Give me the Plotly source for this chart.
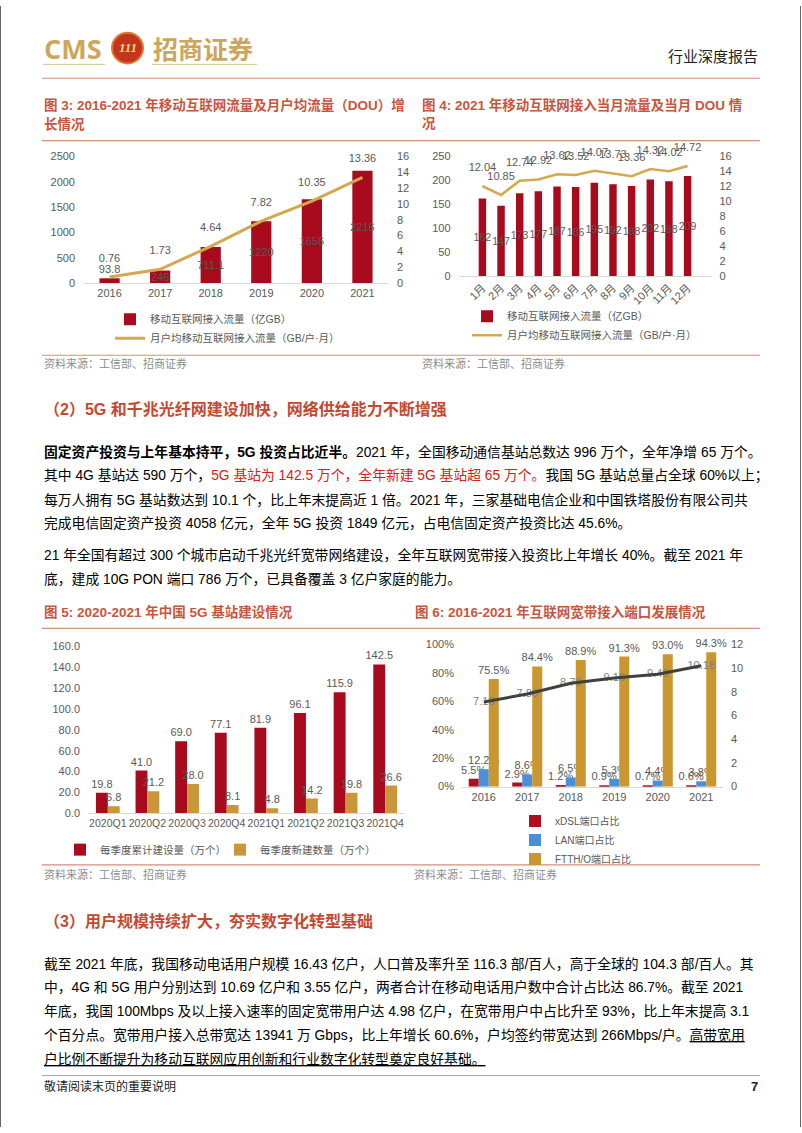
import plotly.graph_objects as go

W, H = 802, 1133


def fx(x):
    return x / W


def fy(y):
    return 1 - y / H


# ---------------- data ----------------
years1 = ['2016', '2017', '2018', '2019', '2020', '2021']
traffic1 = [93.8, 246, 711.1, 1220, 1656, 2216]
dou1 = [0.76, 1.73, 4.64, 7.82, 10.35, 13.36]

months2 = ['1月', '2月', '3月', '4月', '5月', '6月', '7月', '8月', '9月', '10月', '11月', '12月']
traffic2 = [162, 147, 173, 177, 187, 186, 195, 192, 188, 202, 198, 209]
dou2 = [12.04, 10.85, 12.74, 12.92, 13.62, 13.52, 14.07, 13.73, 13.36, 14.32, 14.02, 14.72]

quarters3 = ['2020Q1', '2020Q2', '2020Q3', '2020Q4', '2021Q1', '2021Q2', '2021Q3', '2021Q4']
cum3 = [19.8, 41.0, 69.0, 77.1, 81.9, 96.1, 115.9, 142.5]
new3 = [6.8, 21.2, 28, 8.1, 4.8, 14.2, 19.8, 26.6]

years4 = ['2016', '2017', '2018', '2019', '2020', '2021']
xdsl4 = [5.5, 2.9, 1.2, 0.9, 0.7, 0.6]
lan4 = [12.2, 8.6, 6.5, 5.3, 4.4, 3.8]
ftth4 = [75.5, 84.4, 88.9, 91.3, 93.0, 94.3]
ports4 = [7.13, 7.80, 8.70, 9.16, 9.46, 10.18]

# ---------------- styles ----------------
FONT = 'Liberation Sans, Arial, Noto Sans CJK SC, sans-serif'
RED = '#A80A1E'
GOLD = '#D6A84E'
GOLD_BAR = '#C9973A'
BLUE = '#4A8FD8'
DARK = '#404040'
GREY = '#595959'
TITLE_C = '#C8553D'
HEAD_C = '#C6492F'
LINE_C = '#D98C7A'
TICKF = dict(size=11, color=GREY, family=FONT)
LABF = dict(size=11, color=GREY, family=FONT)

fig = go.Figure()

# ---------- chart 1 ----------
fig.add_trace(go.Bar(
    x=years1, y=traffic1, xaxis='x', yaxis='y', width=0.4,
    marker=dict(color=RED, line=dict(width=0)),
    name='移动互联网接入流量（亿GB）', legend='legend',
    texttemplate='%{y}', textangle=0, constraintext='none',
    textposition=['outside'] + ['inside'] * 5, insidetextanchor='middle',
    textfont=LABF, cliponaxis=False))
fig.add_trace(go.Scatter(
    x=years1, y=dou1, xaxis='x', yaxis='y2', mode='lines',
    line=dict(color=GOLD, width=3),
    name='月户均移动互联网接入流量（GB/户·月）', legend='legend', cliponaxis=False))
fig.add_trace(go.Scatter(
    x=years1, y=dou1, xaxis='x', yaxis='y2', mode='markers+text',
    marker=dict(size=18, opacity=0, color=GOLD),
    texttemplate='%{y:.2f}', textposition='top center', textfont=LABF,
    showlegend=False, cliponaxis=False))

# ---------- chart 2 ----------
fig.add_trace(go.Bar(
    x=months2, y=traffic2, xaxis='x2', yaxis='y3', width=0.4,
    marker=dict(color=RED, line=dict(width=0)),
    name='移动互联网接入流量（亿GB）', legend='legend2',
    texttemplate='%{y}', textangle=0, constraintext='none',
    textposition='inside', insidetextanchor='middle',
    textfont=dict(size=10.5, color=GREY, family=FONT), cliponaxis=False))
fig.add_trace(go.Scatter(
    x=months2, y=dou2, xaxis='x2', yaxis='y4', mode='lines',
    line=dict(color=GOLD, width=2.5),
    name='月户均移动互联网接入流量（GB/户·月）', legend='legend2', cliponaxis=False))
fig.add_trace(go.Scatter(
    x=months2, y=dou2, xaxis='x2', yaxis='y4', mode='markers+text',
    marker=dict(size=18, opacity=0, color=GOLD),
    texttemplate='%{y:.2f}', textposition='top center', textfont=LABF,
    showlegend=False, cliponaxis=False))

# ---------- chart 3 ----------
fig.add_trace(go.Bar(
    x=quarters3, y=cum3, xaxis='x3', yaxis='y5', width=0.3, offset=-0.3,
    marker=dict(color=RED, line=dict(width=0)),
    name='每季度累计建设量（万个）', legend='legend3',
    texttemplate='%{y:.1f}', textposition='outside', textangle=0, constraintext='none',
    textfont=LABF, cliponaxis=False))
fig.add_trace(go.Bar(
    x=quarters3, y=new3, xaxis='x3', yaxis='y5', width=0.3, offset=0.0,
    marker=dict(color=GOLD_BAR, line=dict(width=0)),
    name='每季度新建数量（万个）', legend='legend3',
    texttemplate='%{y}', textposition='outside', textangle=0, constraintext='none',
    textfont=LABF, cliponaxis=False))

# ---------- chart 4 ----------
bw4 = 0.23
fig.add_trace(go.Bar(
    x=years4, y=xdsl4, xaxis='x4', yaxis='y6', width=bw4, offset=-1.5 * bw4,
    marker=dict(color='#B0101E', line=dict(width=0)),
    name='xDSL端口占比', legend='legend4',
    texttemplate='%{y:.1f}%', textposition='outside', textangle=0, constraintext='none',
    textfont=LABF, cliponaxis=False))
fig.add_trace(go.Bar(
    x=years4, y=lan4, xaxis='x4', yaxis='y6', width=bw4, offset=-0.5 * bw4,
    marker=dict(color=BLUE, line=dict(width=0)),
    name='LAN端口占比', legend='legend4',
    texttemplate='%{y:.1f}%', textposition='outside', textangle=0, constraintext='none',
    textfont=LABF, cliponaxis=False))
fig.add_trace(go.Bar(
    x=years4, y=ftth4, xaxis='x4', yaxis='y6', width=bw4, offset=0.5 * bw4,
    marker=dict(color='#C9962F', line=dict(width=0)),
    name='FTTH/O端口占比', legend='legend4',
    texttemplate='%{y:.1f}%', textposition='outside', textangle=0, constraintext='none',
    textfont=LABF, cliponaxis=False))
fig.add_trace(go.Scatter(
    x=years4, y=ports4, xaxis='x4', yaxis='y7', mode='text',
    texttemplate='%{y:.2f}', textposition='middle center',
    textfont=dict(size=11, color='#7F7F7F', family=FONT),
    showlegend=False, cliponaxis=False))
fig.add_trace(go.Scatter(
    x=years4, y=ports4, xaxis='x4', yaxis='y7', mode='lines',
    line=dict(color=DARK, width=3), showlegend=False, cliponaxis=False))

# ---------------- axes ----------------
def xax(x0, x1, anchor, **kw):
    d = dict(domain=[fx(x0), fx(x1)], anchor=anchor, type='category',
             showline=True, linecolor='#D9D9D9', linewidth=1, ticks='',
             showgrid=False, zeroline=False, tickfont=TICKF, fixedrange=True)
    d.update(kw)
    return d


def yax(y0, y1, anchor, rng, dtick, **kw):
    d = dict(domain=[fy(y1), fy(y0)], anchor=anchor, range=rng, dtick=dtick,
             showline=False, ticks='', showgrid=False, zeroline=False,
             tickfont=TICKF, fixedrange=True, ticklabelstandoff=7)
    d.update(kw)
    return d


layout = dict(
    width=W, height=H, margin=dict(l=0, r=0, t=0, b=0),
    paper_bgcolor='white', plot_bgcolor='rgba(0,0,0,0)',
    font=dict(family=FONT, color=GREY),
    barmode='group', showlegend=True,
    xaxis=xax(83, 389, 'y', tickangle=0),
    yaxis=yax(152, 280, 'x', [0, 2500], 500),
    yaxis2=yax(152, 280, 'x', [0, 16], 2, overlaying='y', side='right'),
    xaxis2=xax(458.5, 711.5, 'y3', tickangle=-45),
    yaxis3=yax(152, 273, 'x2', [0, 250], 50),
    yaxis4=yax(152, 273, 'x2', [0, 16], 2, overlaying='y3', side='right'),
    xaxis3=xax(88, 405, 'y5', tickangle=0, tickfont=dict(size=10.5, color=GREY, family=FONT)),
    yaxis5=yax(647, 816, 'x3', [0, 160], 20, tickformat='.1f'),
    xaxis4=xax(462, 723, 'y6', tickangle=0),
    yaxis6=yax(645, 789, 'x4', [0, 100], 20, ticksuffix='%'),
    yaxis7=yax(645, 789, 'x4', [0, 12], 2, overlaying='y6', side='right'),
)

LEGF = dict(size=10.5, color=GREY, family=FONT)
layout['legend'] = dict(x=fx(110), y=fy(302), xanchor='left', yanchor='top',
                        orientation='v', font=LEGF, bgcolor='rgba(0,0,0,0)',
                        itemwidth=30, tracegroupgap=0)
layout['legend2'] = dict(x=fx(467), y=fy(299), xanchor='left', yanchor='top',
                         orientation='v', font=LEGF, bgcolor='rgba(0,0,0,0)',
                         itemwidth=30, tracegroupgap=0)
layout['legend3'] = dict(x=fx(60), y=fy(838), xanchor='left', yanchor='top',
                         orientation='h', font=LEGF, bgcolor='rgba(0,0,0,0)',
                         itemwidth=30, entrywidth=115, entrywidthmode='pixels')
layout['legend4'] = dict(x=fx(515), y=fy(843), xanchor='left', yanchor='middle',
                         orientation='v', font=dict(size=10, color=GREY, family=FONT),
                         bgcolor='rgba(0,0,0,0)', itemwidth=30, tracegroupgap=0)

# ---------------- page text ----------------
ann = []


def txt(x, y, s, size=14, color='#000000', anchor='left'):
    ann.append(dict(xref='paper', yref='paper', x=fx(x), y=fy(y), text=s,
                    showarrow=False, xanchor=anchor, yanchor='middle', align='left',
                    font=dict(size=size, color=color, family=FONT)))


# header
ann.append(dict(xref='paper', yref='paper', x=fx(42), y=fy(43), text='<b>CMS</b>',
                showarrow=False, xanchor='left', yanchor='middle',
                font=dict(size=27, color='#CBA65C', family='Open Sans, Liberation Sans')))
ann.append(dict(xref='paper', yref='paper', x=fx(127.5), y=fy(42), text='<b><i>111</i></b>',
                showarrow=False, xanchor='center', yanchor='middle',
                font=dict(size=13, color='#F7D67E', family='Liberation Serif')))
ann.append(dict(xref='paper', yref='paper', x=fx(151), y=fy(42), text='<b>招商证券</b>',
                showarrow=False, xanchor='left', yanchor='middle',
                font=dict(size=25, color='#CBA65C', family='Noto Sans CJK SC')))
txt(760, 51, '行业深度报告', size=15, color='#222222', anchor='right')

# figure titles
txt(42, 100, '<b>图 3: 2016-2021 年移动互联网流量及月户均流量（DOU）增</b>', size=13.5, color=TITLE_C)
txt(42, 119, '<b>长情况</b>', size=13.5, color=TITLE_C)
txt(420, 100, '<b>图 4: 2021 年移动互联网接入当月流量及当月 DOU 情</b>', size=13.5, color=TITLE_C)
txt(420, 119, '<b>况</b>', size=13.5, color=TITLE_C)

txt(42, 361, '资料来源：工信部、招商证券', size=11, color='#8C8C8C')
txt(420, 361, '资料来源：工信部、招商证券', size=11, color='#8C8C8C')

txt(42, 407, '<b>（2）5G 和千兆光纤网建设加快，网络供给能力不断增强</b>', size=16, color=HEAD_C)

BODY = 13.8
RT = '#D42020'
p1 = [
    '<b>固定资产投资与上年基本持平，5G 投资占比近半。</b>2021 年，全国移动通信基站总数达 996 万个，全年净增 65 万个。',
    '其中 4G 基站达 590 万个，<span style="color:%s">5G 基站为 142.5 万个，全年新建 5G 基站超 65 万个。</span>我国 5G 基站总量占全球 60%%以上；' % RT,
    '每万人拥有 5G 基站数达到 10.1 个，比上年末提高近 1 倍。2021 年，三家基础电信企业和中国铁塔股份有限公司共',
    '完成电信固定资产投资 4058 亿元，全年 5G 投资 1849 亿元，占电信固定资产投资比达 45.6%。',
]
for i, s in enumerate(p1):
    txt(42, 451 + 24 * i, s, size=BODY)
p2 = [
    '21 年全国有超过 300 个城市启动千兆光纤宽带网络建设，全年互联网宽带接入投资比上年增长 40%。截至 2021 年',
    '底，建成 10G PON 端口 786 万个，已具备覆盖 3 亿户家庭的能力。',
]
for i, s in enumerate(p2):
    txt(42, 555 + 24 * i, s, size=BODY)

txt(42, 612, '<b>图 5: 2020-2021 年中国 5G 基站建设情况</b>', size=13.5, color=TITLE_C)
txt(413, 612, '<b>图 6: 2016-2021 年互联网宽带接入端口发展情况</b>', size=13.5, color=TITLE_C)

txt(42, 878, '资料来源：工信部、招商证券', size=11, color='#8C8C8C')
txt(412, 878, '资料来源：工信部、招商证券', size=11, color='#8C8C8C')

txt(42, 925, '<b>（3）用户规模持续扩大，夯实数字化转型基础</b>', size=16, color=HEAD_C)

p3 = [
    '截至 2021 年底，我国移动电话用户规模 16.43 亿户，人口普及率升至 116.3 部/百人，高于全球的 104.3 部/百人。其',
    '中，4G 和 5G 用户分别达到 10.69 亿户和 3.55 亿户，两者合计在移动电话用户数中合计占比达 86.7%。截至 2021',
    '年底，我国 100Mbps 及以上接入速率的固定宽带用户达 4.98 亿户，在宽带用户中占比升至 93%，比上年末提高 3.1',
    '个百分点。宽带用户接入总带宽达 13941 万 Gbps，比上年增长 60.6%，户均签约带宽达到 266Mbps/户。<u>高带宽用</u>',
    '<u>户比例不断提升为移动互联网应用创新和行业数字化转型奠定良好基础。</u>',
]
for i, s in enumerate(p3):
    txt(42, 968 + 24 * i, s, size=BODY)

txt(42, 1092, '敬请阅读末页的重要说明', size=12, color='#222222')
txt(760, 1092, '<b>7</b>', size=13, color='#222222', anchor='right')

layout['annotations'] = ann

# ---------------- shapes ----------------
shapes = []


def hline(y, x0=42, x1=760, color=LINE_C, width=1.2):
    shapes.append(dict(type='line', xref='paper', yref='paper', x0=fx(x0), x1=fx(x1),
                       y0=fy(y), y1=fy(y), line=dict(color=color, width=width)))


hline(73)
hline(59, 43, 105, color='#D9C28F', width=1)
hline(59, 152, 257, color='#D9C28F', width=1)
hline(136)
hline(353)
hline(629)
hline(868)
hline(1081, color='#A6A6A6', width=1)
shapes.append(dict(type='circle', xref='paper', yref='paper', x0=fx(112), x1=fx(143),
                   y0=fy(58), y1=fy(27), fillcolor='#C2361E', line=dict(color='#E0782E', width=2)))
shapes.append(dict(type='line', xref='paper', yref='paper', x0=fx(0.5), x1=fx(0.5),
                   y0=0, y1=1, line=dict(color='#666666', width=1)))
shapes.append(dict(type='line', xref='paper', yref='paper', x0=fx(800.5), x1=fx(800.5),
                   y0=0, y1=1, line=dict(color='#666666', width=1)))
layout['shapes'] = shapes

fig.update_layout(**layout)
fig.write_html('out.html', config={'displayModeBar': False},
               post_script="document.body.style.margin='0px';document.body.style.padding='0px';document.body.style.overflow='hidden';")
